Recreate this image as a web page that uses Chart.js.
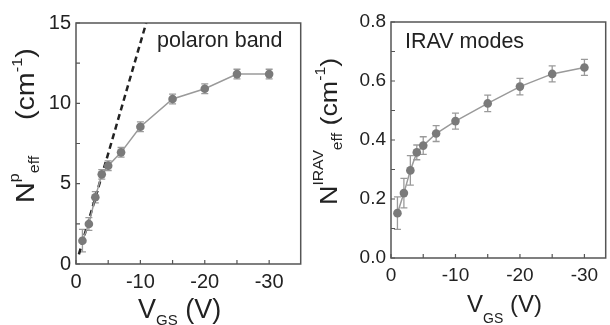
<!DOCTYPE html>
<html>
<head>
<meta charset="utf-8">
<script src="https://cdn.jsdelivr.net/npm/chart.js@4"></script>
<style>
  html, body { margin: 0; padding: 0; background: #fff; }
  #wrap { position: relative; width: 610px; height: 325px; overflow: hidden; }
  canvas { position: absolute; top: 0; }
  #polaron-chart { left: 0; }
  #irav-chart { left: 305px; }
</style>
</head>
<body>
<div id="wrap">
  <canvas id="polaron-chart" width="305" height="325"></canvas>
  <canvas id="irav-chart" width="305" height="325"></canvas>
</div>
<script>
// gate voltage (V), same for both panels
const gateVoltage = [-1, -2, -3, -4, -5, -7, -10, -15, -20, -25, -30];

// left panel: polaron band oscillator strength
const polaronN = [1.45, 2.49, 4.15, 5.58, 6.12, 6.95, 8.54, 10.27, 10.91, 11.82, 11.82];
const polaronErr = [0.7, 0.4, 0.35, 0.3, 0.3, 0.3, 0.3, 0.3, 0.3, 0.3, 0.3];
// dashed linear guide
const polaronFitV = [-0.45, -10.9];
const polaronFitN = [0.6, 15];

// right panel: IRAV modes
const iravN = [0.152, 0.22, 0.297, 0.358, 0.381, 0.422, 0.464, 0.524, 0.581, 0.624, 0.646];
const iravErr = [0.055, 0.05, 0.05, 0.025, 0.03, 0.027, 0.027, 0.028, 0.028, 0.027, 0.027];

// tick labels
const xTicks = [0, -10, -20, -30];
const polaronYTicks = [0, 5, 10, 15];
const iravYTicks = [0, 0.2, 0.4, 0.6, 0.8];

const FONT = "'Liberation Sans', Arial, sans-serif";
Chart.defaults.font.family = FONT;
Chart.defaults.color = "#222";

/* -----------------------------------------------
   small text helper (sub/superscripts, rotation,
   optional stretch along the text direction)
------------------------------------------------ */
function drawRich(ctx, parts, x, y, angle, stretch) {
  ctx.save();
  ctx.translate(x, y);
  ctx.rotate(angle || 0);
  ctx.scale(stretch || 1, 1);
  ctx.fillStyle = "#222";
  ctx.textBaseline = "alphabetic";
  ctx.textAlign = "left";
  let cx = 0;
  parts.forEach(p => {
    ctx.font = `${p.size}px ${FONT}`;
    ctx.fillText(p.text, cx, p.dy || 0);
    cx += ctx.measureText(p.text).width + (p.gap || 0);
  });
  ctx.restore();
}

const errorBars = {
  id: "errorBars",
  beforeDatasetsDraw(chart) {
    const { ctx, scales: { x, y } } = chart;
    ctx.save();
    ctx.strokeStyle = "#9a9a9a";
    ctx.lineWidth = 1.3;
    chart.data.datasets.forEach(ds => {
      if (!ds.errors) return;
      ds.data.forEach((pt, i) => {
        const px = x.getPixelForValue(pt.x);
        const top = y.getPixelForValue(pt.y + ds.errors[i]);
        const bot = y.getPixelForValue(pt.y - ds.errors[i]);
        ctx.beginPath();
        ctx.moveTo(px, top); ctx.lineTo(px, bot);
        ctx.moveTo(px - 3.5, top); ctx.lineTo(px + 3.5, top);
        ctx.moveTo(px - 3.5, bot); ctx.lineTo(px + 3.5, bot);
        ctx.stroke();
      });
    });
    ctx.restore();
  }
};

const frameAndText = {
  id: "frameAndText",
  afterDraw(chart, args, opts) {
    const { ctx, chartArea: a, scales: { x, y } } = chart;
    ctx.save();
    ctx.strokeStyle = "#555";
    ctx.lineWidth = 1.5;
    ctx.strokeRect(a.left, a.top, a.right - a.left, a.bottom - a.top);

    // inward tick marks on left and bottom axes
    ctx.lineWidth = 1.2;
    ctx.beginPath();
    for (let v = x.max; v >= x.min - 1e-9; v -= opts.xStep) {
      const px = x.getPixelForValue(v);
      ctx.moveTo(px, a.bottom); ctx.lineTo(px, a.bottom - 4);
    }
    for (let v = y.min; v <= y.max + 1e-9; v += opts.yStep) {
      const py = y.getPixelForValue(v);
      ctx.moveTo(a.left, py); ctx.lineTo(a.left + 4, py);
    }
    ctx.stroke();
    ctx.restore();

    (opts.texts || []).forEach(t => drawRich(ctx, t.parts, t.x, t.y, t.angle, t.stretch));
  }
};

function fixedArea(yWidth, xHeight) {
  return {
    x: scale => { scale.height = xHeight; },
    y: scale => { scale.width = yWidth; }
  };
}

function points(xs, ys) {
  return xs.map((v, i) => ({ x: v, y: ys[i] }));
}

function makeChart(canvasId, cfg) {
  const fit = fixedArea(cfg.yWidth, cfg.xHeight);
  return new Chart(document.getElementById(canvasId), {
    type: "line",
    data: { datasets: cfg.datasets },
    options: {
      responsive: false,
      animation: false,
      layout: { padding: cfg.padding },
      plugins: {
        legend: { display: false },
        tooltip: { enabled: false },
        frameAndText: cfg.frame
      },
      scales: {
        x: {
          type: "linear",
          reverse: true,
          min: cfg.xMin,
          max: 0,
          grid: { display: false, drawTicks: false },
          border: { display: false },
          afterBuildTicks: s => { s.ticks = xTicks.map(v => ({ value: v })); },
          afterFit: fit.x,
          ticks: { font: { size: cfg.tickSize }, padding: 6, maxRotation: 0 }
        },
        y: {
          min: 0,
          max: cfg.yMax,
          grid: { display: false, drawTicks: false },
          border: { display: false },
          afterBuildTicks: s => { s.ticks = cfg.yTicks.map(v => ({ value: v })); },
          afterFit: fit.y,
          ticks: {
            font: { size: cfg.tickSize },
            padding: 5,
            callback: cfg.yFormat
          }
        }
      }
    },
    plugins: [errorBars, frameAndText]
  });
}

const dataStyle = {
  borderColor: "#9a9a9a",
  borderWidth: 1.5,
  pointRadius: 4.3,
  pointBackgroundColor: "#7a7a7a",
  pointBorderColor: "#7a7a7a",
  pointBorderWidth: 0,
  tension: 0
};

// left: polaron band
makeChart("polaron-chart", {
  padding: { top: 23, right: 2, left: 0, bottom: 0 },
  yWidth: 76,
  xHeight: 61,
  xMin: -34.9,
  yMax: 15,
  yTicks: polaronYTicks,
  tickSize: 20,
  yFormat: v => String(v),
  datasets: [
    Object.assign({ data: points(gateVoltage, polaronN), errors: polaronErr }, dataStyle),
    {
      data: points(polaronFitV, polaronFitN),
      borderColor: "#222",
      borderWidth: 2.5,
      borderDash: [6, 4],
      pointRadius: 0
    }
  ],
  frame: {
    xStep: 5,
    yStep: 2.5,
    texts: [
      { x: 157, y: 47, parts: [{ text: "polaron band", size: 21.5 }] },
      {
        x: 34, y: 203, angle: -Math.PI / 2, stretch: 1.15,
        parts: [
          { text: "N", size: 25 },
          { text: "p", size: 14, dy: -15 },
          { text: "eff", size: 14, dy: 5, gap: 24 },
          { text: " (cm", size: 25 },
          { text: "-1", size: 14, dy: -12 },
          { text: ")", size: 25 }
        ]
      },
      {
        x: 138, y: 318,
        parts: [
          { text: "V", size: 27 },
          { text: "GS", size: 15, dy: 7 },
          { text: " (V)", size: 27 }
        ]
      }
    ]
  }
});

// right: IRAV modes
makeChart("irav-chart", {
  padding: { top: 22, right: 1, left: 0, bottom: 0 },
  yWidth: 86,
  xHeight: 67,
  xMin: -33.3,
  yMax: 0.8,
  yTicks: iravYTicks,
  tickSize: 19,
  yFormat: v => v.toFixed(1),
  datasets: [
    Object.assign({ data: points(gateVoltage, iravN), errors: iravErr }, dataStyle)
  ],
  frame: {
    xStep: 5,
    yStep: 0.1,
    texts: [
      { x: 100, y: 48, parts: [{ text: "IRAV modes", size: 21.5 }] },
      {
        x: 32, y: 205, angle: -Math.PI / 2, stretch: 1.12,
        parts: [
          { text: "N", size: 24 },
          { text: "IRAV", size: 14, dy: -14 },
          { text: "eff", size: 14, dy: 5 },
          { text: " (cm", size: 24 },
          { text: "-1", size: 14, dy: -12 },
          { text: ")", size: 24 }
        ]
      },
      {
        x: 162, y: 312,
        parts: [
          { text: "V", size: 24 },
          { text: "GS", size: 14, dy: 11 },
          { text: " (V)", size: 24 }
        ]
      }
    ]
  }
});
</script>
</body>
</html>
